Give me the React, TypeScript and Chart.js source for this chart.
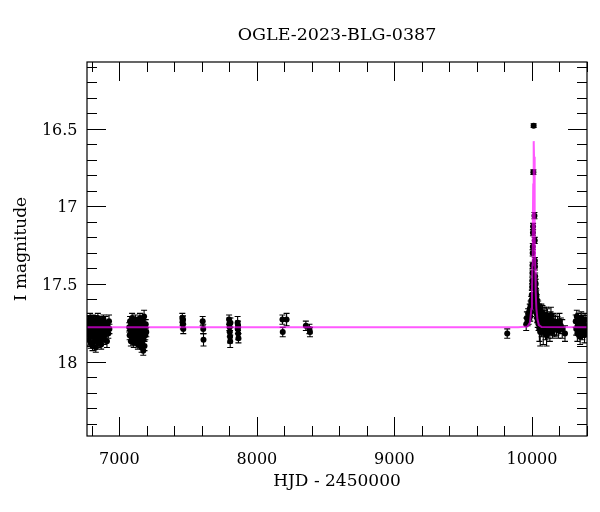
import React, { useEffect, useRef } from "react";
import { Chart, registerables } from "chart.js";
Chart.register(...registerables);

// ---- data: [HJD-2450000, I mag, error] ----
const season2014: number[][] = [
  [6772, 17.80, 0.03], [6775, 17.74, 0.03], [6778, 17.86, 0.035], [6781, 17.77, 0.03], [6784, 17.83, 0.03],
  [6787, 17.72, 0.03], [6790, 17.79, 0.03], [6793, 17.88, 0.035], [6796, 17.75, 0.03], [6799, 17.82, 0.03],
  [6802, 17.78, 0.03], [6805, 17.90, 0.03], [6808, 17.73, 0.03], [6811, 17.84, 0.03], [6814, 17.80, 0.03],
  [6817, 17.76, 0.03], [6820, 17.87, 0.03], [6823, 17.81, 0.03], [6826, 17.74, 0.03], [6829, 17.91, 0.03],
  [6832, 17.79, 0.03], [6835, 17.85, 0.03], [6838, 17.77, 0.03], [6841, 17.83, 0.03], [6844, 17.72, 0.03],
  [6847, 17.88, 0.03], [6850, 17.80, 0.03], [6853, 17.75, 0.03], [6856, 17.86, 0.03], [6859, 17.78, 0.03],
  [6862, 17.82, 0.03], [6865, 17.74, 0.03], [6868, 17.89, 0.03], [6871, 17.79, 0.03], [6874, 17.84, 0.03],
  [6877, 17.76, 0.03], [6880, 17.81, 0.03], [6884, 17.73, 0.03], [6888, 17.86, 0.03], [6892, 17.78, 0.03],
  [6896, 17.83, 0.03], [6900, 17.75, 0.04], [6905, 17.80, 0.03], [6910, 17.87, 0.04], [6915, 17.77, 0.03],
  [6920, 17.82, 0.03], [6925, 17.74, 0.04], [6928, 17.79, 0.03],
];
const season2015: number[][] = [
  [7072, 17.78, 0.03], [7075, 17.83, 0.03], [7078, 17.74, 0.03], [7081, 17.80, 0.03], [7084, 17.87, 0.03],
  [7087, 17.76, 0.03], [7090, 17.82, 0.03], [7093, 17.72, 0.03], [7096, 17.85, 0.03], [7099, 17.79, 0.03],
  [7102, 17.75, 0.03], [7105, 17.88, 0.03], [7108, 17.81, 0.03], [7111, 17.77, 0.03], [7114, 17.84, 0.03],
  [7117, 17.73, 0.03], [7120, 17.80, 0.03], [7123, 17.86, 0.03], [7126, 17.78, 0.03], [7129, 17.83, 0.03],
  [7132, 17.75, 0.03], [7135, 17.89, 0.03], [7138, 17.80, 0.03], [7141, 17.76, 0.03], [7144, 17.85, 0.03],
  [7147, 17.79, 0.03], [7150, 17.72, 0.03], [7153, 17.88, 0.03], [7156, 17.82, 0.03], [7159, 17.77, 0.03],
  [7162, 17.91, 0.03], [7165, 17.84, 0.03], [7168, 17.74, 0.03], [7171, 17.80, 0.03], [7174, 17.93, 0.03],
  [7177, 17.86, 0.03], [7180, 17.71, 0.04], [7183, 17.90, 0.03], [7186, 17.78, 0.03], [7189, 17.83, 0.03],
  [7192, 17.76, 0.03], [7196, 17.81, 0.03],
];
const seasonsSparse: number[][] = [
  [7458, 17.72, 0.03], [7460, 17.74, 0.03], [7462, 17.76, 0.03], [7465, 17.79, 0.03], [7463, 17.73, 0.025],
  [7606, 17.74, 0.03], [7610, 17.79, 0.03], [7612, 17.86, 0.04],
  [7798, 17.73, 0.03], [7800, 17.76, 0.04], [7802, 17.78, 0.03], [7803, 17.81, 0.03], [7805, 17.84, 0.04],
  [7806, 17.87, 0.04], [7808, 17.75, 0.03], [7860, 17.75, 0.04], [7862, 17.79, 0.03], [7864, 17.82, 0.04],
  [7866, 17.85, 0.03], [7863, 17.77, 0.03],
  [8186, 17.73, 0.03], [8188, 17.81, 0.03], [8216, 17.73, 0.04],
  [8356, 17.77, 0.03], [8382, 17.79, 0.03], [8386, 17.81, 0.03],
  [9820, 17.82, 0.03],
];
const season2023: number[][] = [
  [9958, 17.76, 0.04], [9963, 17.72, 0.04], [9968, 17.74, 0.03], [9972, 17.69, 0.03], [9976, 17.73, 0.03],
  [9980, 17.70, 0.03], [9984, 17.66, 0.03], [9987, 17.71, 0.03], [9990, 17.64, 0.03], [9993, 17.68, 0.03],
  [9995, 17.61, 0.03], [9997, 17.65, 0.03], [9999, 17.57, 0.03], [10000, 17.60, 0.03], [10001, 17.52, 0.02],
  [10002, 17.48, 0.02], [10003, 17.43, 0.02], [10004, 17.38, 0.02], [10005, 17.30, 0.02], [10006, 17.26, 0.02],
  [10007, 17.17, 0.02], [10008, 17.13, 0.02], [10010, 16.78, 0.015], [10012, 16.48, 0.012], [10018, 17.06, 0.02],
  [10020, 17.22, 0.02], [10021, 17.35, 0.02], [10022, 17.39, 0.02], [10023, 17.45, 0.02], [10024, 17.49, 0.02],
  [10025, 17.53, 0.03], [10026, 17.50, 0.03], [10027, 17.56, 0.03], [10028, 17.60, 0.03], [10029, 17.58, 0.03],
  [10030, 17.63, 0.03], [10031, 17.57, 0.03], [10032, 17.61, 0.03], [10033, 17.69, 0.03], [10034, 17.66, 0.03],
  [10035, 17.60, 0.03], [10036, 17.64, 0.03], [10037, 17.72, 0.03], [10038, 17.69, 0.03], [10039, 17.63, 0.03],
  [10040, 17.67, 0.03], [10042, 17.74, 0.04], [10043, 17.71, 0.03], [10045, 17.65, 0.04], [10046, 17.69, 0.03],
  [10048, 17.76, 0.04], [10049, 17.73, 0.03], [10051, 17.67, 0.04], [10052, 17.70, 0.04], [10054, 17.79, 0.08],
  [10055, 17.75, 0.04], [10057, 17.68, 0.04], [10058, 17.72, 0.04], [10060, 17.81, 0.09], [10062, 17.77, 0.04],
  [10064, 17.70, 0.04], [10066, 17.74, 0.04], [10068, 17.68, 0.05], [10070, 17.79, 0.05],
  [10074, 17.73, 0.04], [10076, 17.69, 0.05], [10078, 17.76, 0.05], [10082, 17.81, 0.08], [10086, 17.75, 0.05],
  [10088, 17.70, 0.05], [10090, 17.78, 0.05], [10094, 17.72, 0.05], [10098, 17.80, 0.06], [10102, 17.76, 0.05],
  [10104, 17.70, 0.05], [10106, 17.83, 0.07], [10110, 17.77, 0.05], [10112, 17.71, 0.05], [10115, 17.74, 0.05],
  [10120, 17.79, 0.06], [10125, 17.75, 0.05], [10130, 17.81, 0.06], [10135, 17.73, 0.05], [10138, 17.70, 0.05],
  [10140, 17.78, 0.05], [10145, 17.76, 0.06], [10150, 17.80, 0.05], [10155, 17.74, 0.05], [10160, 17.77, 0.06],
  [10165, 17.79, 0.05], [10170, 17.75, 0.05], [10178, 17.78, 0.05], [10185, 17.76, 0.05], [10192, 17.80, 0.05],
  [10200, 17.74, 0.05], [10210, 17.77, 0.05], [10220, 17.79, 0.06], [10240, 17.82, 0.05],
  [10318, 17.74, 0.04], [10322, 17.79, 0.04], [10326, 17.71, 0.04], [10330, 17.82, 0.05], [10334, 17.76, 0.04],
  [10338, 17.73, 0.04], [10342, 17.80, 0.04], [10346, 17.77, 0.05], [10350, 17.84, 0.05], [10354, 17.75, 0.04],
  [10358, 17.72, 0.04], [10362, 17.78, 0.04], [10366, 17.81, 0.05], [10370, 17.74, 0.04], [10374, 17.79, 0.04],
  [10378, 17.76, 0.04], [10382, 17.83, 0.05], [10386, 17.73, 0.04], [10390, 17.78, 0.04], [10394, 17.80, 0.04],
];
const allSeasons = [season2014, season2015, seasonsSparse, season2023];

// model light curve
const modelHjd = [6700, 9900, 9967, 9985, 9996, 10000, 10003, 10006, 10009, 10012, 10013, 10015, 10018, 10021, 10024, 10027, 10032, 10040, 10050, 10070, 10500];
const modelMag = [17.78, 17.78, 17.775, 17.75, 17.66, 17.56, 17.38, 17.12, 16.86, 16.62, 16.58, 16.68, 16.95, 17.2, 17.4, 17.55, 17.66, 17.73, 17.765, 17.778, 17.78];

const xTickValues = [7000, 8000, 9000, 10000];
const xTickLabels = ["7000", "8000", "9000", "10000"];
const yTickValues = [16.5, 17, 17.5, 18];
const yTickLabels = ["16.5", "17", "17.5", "18"];

const TITLE = "OGLE-2023-BLG-0387";
const X_TITLE = "HJD - 2450000";
const Y_TITLE = "I magnitude";
const FONT = "'DejaVu Serif', serif";

const lcPlugin = {
  id: "lcPlugin",
  beforeDatasetsDraw(chart: any) {
    const { ctx, chartArea: a, scales } = chart;
    const x = scales.x, y = scales.y;
    ctx.save();
    ctx.beginPath();
    ctx.rect(a.left, a.top, a.right - a.left, a.bottom - a.top);
    ctx.clip();
    ctx.strokeStyle = "#000";
    ctx.lineWidth = 1.1;
    for (const s of allSeasons) {
      for (const [t, m, e] of s) {
        const px = x.getPixelForValue(t);
        const y1 = y.getPixelForValue(m - e);
        const y2 = y.getPixelForValue(m + e);
        ctx.beginPath();
        ctx.moveTo(px, y1); ctx.lineTo(px, y2);
        ctx.moveTo(px - 3, y1); ctx.lineTo(px + 3, y1);
        ctx.moveTo(px - 3, y2); ctx.lineTo(px + 3, y2);
        ctx.stroke();
      }
    }
    ctx.restore();
  },
  afterDraw(chart: any) {
    const { ctx, chartArea: a, scales } = chart;
    const x = scales.x, y = scales.y;
    ctx.save();
    ctx.strokeStyle = "#000";
    ctx.lineWidth = 1.2;
    ctx.strokeRect(a.left, a.top, a.right - a.left, a.bottom - a.top);
    ctx.lineWidth = 1;
    ctx.beginPath();
    for (let v = Math.ceil(x.min / 200) * 200; v <= x.max; v += 200) {
      const px = Math.round(x.getPixelForValue(v)) + 0.5;
      const len = v % 1000 === 0 ? 19 : 10;
      ctx.moveTo(px, a.bottom); ctx.lineTo(px, a.bottom - len);
      ctx.moveTo(px, a.top); ctx.lineTo(px, a.top + len);
    }
    for (let k = Math.ceil(y.min * 10 - 1e-6); k <= y.max * 10 + 1e-6; k++) {
      const py = Math.round(y.getPixelForValue(k / 10)) + 0.5;
      const len = k % 5 === 0 ? 19 : 10;
      ctx.moveTo(a.left, py); ctx.lineTo(a.left + len, py);
      ctx.moveTo(a.right, py); ctx.lineTo(a.right - len, py);
    }
    ctx.stroke();

    ctx.fillStyle = "#000";
    ctx.font = `16px ${FONT}`;
    ctx.textBaseline = "alphabetic";
    ctx.textAlign = "center";
    xTickValues.forEach((v, i) => {
      ctx.fillText(xTickLabels[i], x.getPixelForValue(v), a.bottom + 27.5);
    });
    ctx.textAlign = "right";
    yTickValues.forEach((v, i) => {
      ctx.fillText(yTickLabels[i], a.left - 9.5, y.getPixelForValue(v) + 6);
    });

    ctx.font = `17px ${FONT}`;
    ctx.textAlign = "center";
    ctx.fillText(X_TITLE, (a.left + a.right) / 2, a.bottom + 49.5);
    ctx.save();
    ctx.translate(25.5, (a.top + a.bottom) / 2);
    ctx.rotate(-Math.PI / 2);
    ctx.fillText(Y_TITLE, 0, 0);
    ctx.restore();

    ctx.font = `17.5px ${FONT}`;
    ctx.fillText(TITLE, (a.left + a.right) / 2, 39.5);
    ctx.restore();
  },
};

export default function App() {
  const ref = useRef<HTMLCanvasElement | null>(null);
  useEffect(() => {
    if (!ref.current) return;
    const toPts = (s: number[][]) => s.map(([t, m]) => ({ x: t, y: m }));
    const pointStyle = {
      type: "scatter" as const,
      pointRadius: 3,
      pointBackgroundColor: "#000",
      pointBorderWidth: 0,
      pointBorderColor: "#000",
      showLine: false,
    };
    const chart = new Chart(ref.current, {
      type: "scatter",
      data: {
        datasets: [
          {
            type: "line",
            label: "model",
            data: modelHjd.map((t, i) => ({ x: t, y: modelMag[i] })),
            borderColor: "rgba(255,0,255,0.65)",
            borderWidth: 2,
            pointRadius: 0,
            tension: 0,
            fill: false,
          } as any,
          ...allSeasons.map((s, i) => ({ ...pointStyle, label: "s" + i, data: toPts(s) })),
        ],
      },
      options: {
        responsive: false,
        animation: false,
        layout: { padding: { left: 87, right: 13, top: 62, bottom: 76 } },
        plugins: { legend: { display: false }, tooltip: { enabled: false }, title: { display: false } },
        scales: {
          x: { type: "linear", min: 6765, max: 10400, display: false },
          y: { type: "linear", min: 16.07, max: 18.48, reverse: true, display: false },
        },
      },
      plugins: [lcPlugin],
    });
    return () => chart.destroy();
  }, []);
  return (
    <div style={{ position: "absolute", left: 0, top: 0, width: 600, height: 512, background: "#fff" }}>
      <canvas ref={ref} width={600} height={512} style={{ width: 600, height: 512 }} />
    </div>
  );
}
